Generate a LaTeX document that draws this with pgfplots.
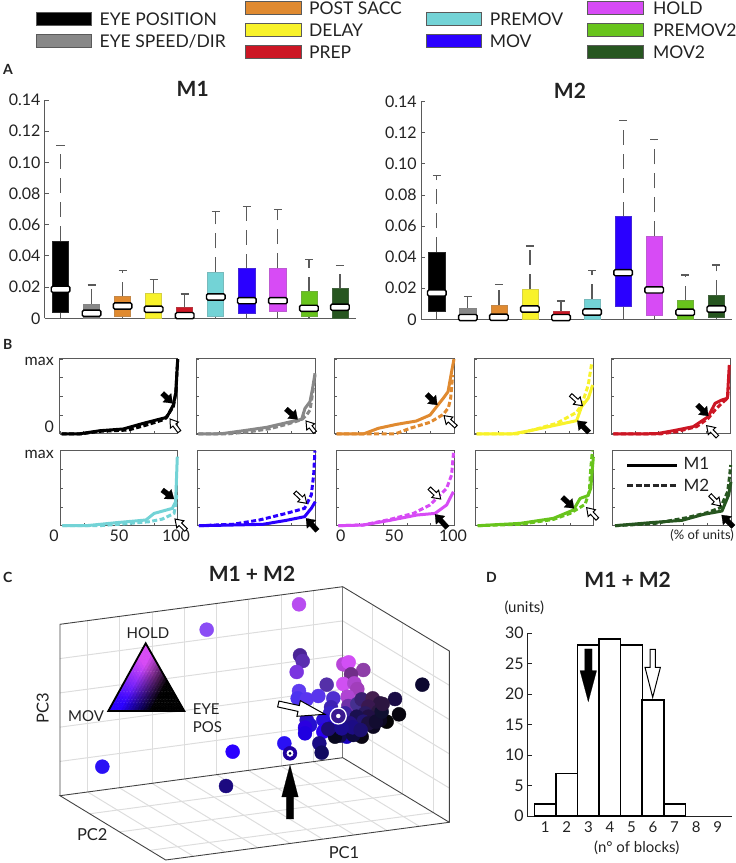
\documentclass[border=0pt]{standalone}
\usepackage{fontspec}
\setmainfont{Lato}
\usepackage{pgfplots}
\pgfplotsset{compat=1.18}
\definecolor{cEye}{HTML}{000000}
\definecolor{cSpd}{HTML}{888888}
\definecolor{cPost}{HTML}{E08A30}
\definecolor{cDel}{HTML}{F8F22A}
\definecolor{cPrep}{HTML}{CC1624}
\definecolor{cPre}{HTML}{73D3D6}
\definecolor{cMov}{HTML}{2A00FF}
\definecolor{cHold}{HTML}{D74BF5}
\definecolor{cPre2}{HTML}{68C41C}
\definecolor{cMov2}{HTML}{275620}
\definecolor{txt}{HTML}{222222}
\definecolor{whk}{HTML}{5A5A5A}
\definecolor{grd}{HTML}{DDDDDD}
\newcommand\fs[1]{\fontsize{#1}{#1}\selectfont}
\pgfplotsset{
  boxax/.style={scale only axis, anchor=south west, clip=false, width=310.5pt,
    xmin=0.5,xmax=10.5,ymin=0,ymax=0.14, axis x line=bottom, axis y line=left,
    axis line style={-,draw=whk,line width=1pt}, xtick=\empty,
    ytick={0,0.02,0.04,0.06,0.08,0.10,0.12,0.14},
    yticklabels={0,0.02,0.04,0.06,0.08,0.10,0.12,0.14},
    tick align=inside, major tick length=4pt, tick style={draw=whk,line width=.9pt},
    y tick label style={font=\fs{16},text=txt,xshift=-1pt}, title style={font=\fs{21}\bfseries,text=txt}},
  wh/.style={draw=whk,line width=1.2pt,forget plot},
  cax/.style={scale only axis, anchor=south west, clip=false,
    xmin=0,xmax=100,ymin=0,ymax=1, xtick={0,20,40,60,80,100}, ytick={0,0.25,0.5,0.75,1},
    xticklabels={}, yticklabels={}, tick pos=left, tick align=inside, major tick length=2.5pt,
    axis line style={draw=whk,line width=1pt}, tick style={draw=whk,line width=.8pt}},
  sol/.style={line width=3pt,line join=round},
  das/.style={line width=3pt,dash pattern=on 5pt off 2.5pt}
}
\newcommand\bx[7]{%
  \pgfmathsetmacro\bxL{#1-0.26}\pgfmathsetmacro\bxR{#1+0.26}%
  \pgfmathsetmacro\bxl{#1-0.13}\pgfmathsetmacro\bxr{#1+0.13}%
  \pgfmathsetmacro\bxml{#1-0.3}\pgfmathsetmacro\bxmr{#1+0.3}%
  \pgfmathsetmacro\bxlo{#4-0.002}\pgfmathsetmacro\bxhi{#4+0.002}%
  \addplot[wh,dash pattern=on 15pt off 9pt] coordinates {(#1,#5)(#1,#6)};
  \addplot[wh] coordinates {(\bxl,#6)(\bxr,#6)};
  \addplot[wh] coordinates {(#1,#2)(#1,#3)};
  \addplot[fill=#7,draw=#7!70!gray,line width=.7pt,forget plot] coordinates {(\bxL,#3)(\bxR,#3)(\bxR,#5)(\bxL,#5)} -- cycle;
  \addplot[fill=white,draw=black,line width=1.4pt,rounded corners=1.4pt,forget plot] coordinates {(\bxml,\bxlo)(\bxmr,\bxlo)(\bxmr,\bxhi)(\bxml,\bxhi)} -- cycle;
}
\newcommand\cpanel[7]{%
 \begin{axis}[cax,at={(#1pt,{(863-#2)*1pt})},width=#3pt,height=75pt]
  \addplot[das,color=#4] coordinates {#6};
  \addplot[sol,color=#4] coordinates {#5};
  #7
 \end{axis}}
% arrow in px coordinates: style, tipx,tipy,tailx,taily,headlen,headhalf,shafthalf
\newcommand\barrow[8]{%
  \pgfmathsetmacro\arang{-atan2((#3)-(#5),(#2)-(#4))}%
  \pgfmathsetmacro\arlen{veclen((#3)-(#5),(#2)-(#4))}%
  \begin{scope}[shift={({#2},{#3})},rotate=\arang]
   \path[#1,line join=miter] (0,0)--(-#6,#7)--(-#6,#8)--(-\arlen,#8)--(-\arlen,-#8)--(-#6,-#8)--(-#6,-#7)--cycle;
  \end{scope}}
\tikzset{ablk/.style={fill=black,draw=black,line width=.2pt},awht/.style={fill=white,draw=black,line width=1pt},
  anchoradj/mid west/.style={yshift=-2.2pt},anchoradj/mid east/.style={yshift=-2.2pt}}
% small arrows given in zoom coordinates
\newcommand\sblk[5]{\barrow{ablk}{#1+#2/3}{335+#3/3}{#1+#4/3}{335+#5/3}{8}{6}{2.5}}
\newcommand\swht[5]{\barrow{awht}{#1+#2/3}{335+#3/3}{#1+#4/3}{335+#5/3}{7.5}{5}{1.8}}
\newcommand\Tx[5]{\node[anchor=#3,anchoradj/#3/.try,inner sep=0pt,font=\fs{#4},text=txt] at (#1,#2) {#5};}
\newcommand\lgd[3]{\path[fill=#3,draw=whk,line width=.8pt] (#1,#2) rectangle ++(55.4,13);}
\begin{document}
\begin{tikzpicture}
\useasboundingbox (0,0) rectangle (736pt,863pt);
% ---------- panel A
\begin{axis}[boxax,at={(45pt,{(863-318.3)*1pt})},height=218.3pt]
 \bx{1}{0}{0.004}{0.0186}{0.0496}{0.111}{cEye}
 \bx{2}{0}{0}{0.0032}{0.0092}{0.0214}{cSpd}
 \bx{3}{0}{0.001}{0.0079}{0.0139}{0.0306}{cPost}
 \bx{4}{0}{0}{0.0058}{0.016}{0.0248}{cDel}
 \bx{5}{0}{0}{0.0017}{0.0068}{0.0156}{cPrep}
 \bx{6}{0}{0.001}{0.0137}{0.0295}{0.0685}{cPre}
 \bx{7}{0}{0.0032}{0.0113}{0.0319}{0.0719}{cMov}
 \bx{8}{0}{0.0043}{0.0113}{0.0321}{0.0698}{cHold}
 \bx{9}{0}{0.0015}{0.0064}{0.0171}{0.0379}{cPre2}
 \bx{10}{0}{0}{0.0071}{0.019}{0.0338}{cMov2}
\end{axis}
\begin{axis}[boxax,at={(421.3pt,{(863-319.3)*1pt})},height=217.6pt]
 \bx{1}{0}{0.0049}{0.0169}{0.0432}{0.0927}{cEye}
 \bx{2}{0}{0}{0.0011}{0.0071}{0.0146}{cSpd}
 \bx{3}{0}{0}{0.0013}{0.009}{0.0225}{cPost}
 \bx{4}{0}{0}{0.0066}{0.0195}{0.0471}{cDel}
 \bx{5}{0}{0}{0.0011}{0.0049}{0.0118}{cPrep}
 \bx{6}{0}{0}{0.0047}{0.0128}{0.0313}{cPre}
 \bx{7}{0}{0.0084}{0.03}{0.066}{0.1281}{cMov}
 \bx{8}{0}{0.0028}{0.0189}{0.0533}{0.1157}{cHold}
 \bx{9}{0}{0}{0.0045}{0.012}{0.0285}{cPre2}
 \bx{10}{0}{0.0015}{0.0066}{0.0154}{0.0349}{cMov2}
\end{axis}
% ---------- panel B
\cpanel{60}{434}{117.7}{cEye}{(1.4,0)(15.6,0)(34,.044)(53.8,.067)(70.8,.142)(90.7,.222)(96.3,.387)(98.3,.54)(100,1)}{(1.4,0)(17,0)(34,.036)(58,.053)(73.6,.12)(89,.196)(96.3,.364)(98.5,.564)(100,1)}{}
\cpanel{196}{434}{119}{cSpd}{(2,0)(21.6,.004)(39.8,.044)(59.4,.089)(76.2,.151)(88.8,.196)(91.6,.342)(95.8,.431)(98,.609)(100,.809)}{(2,0)(25.8,0)(45.4,.031)(62.2,.071)(76.2,.129)(88.8,.191)(93,.253)(95.8,.32)(98,.542)(100,.787)}{}
\cpanel{334.7}{434}{119.3}{cPost}{(1.7,0)(24,0)(36.6,.076)(52,.129)(68.4,.173)(80,.253)(85.4,.364)(91,.476)(95,.564)(98,.831)(100,1)}{(1.7,0)(50.6,0)(63.1,.076)(79.9,.156)(91.1,.262)(95.3,.351)(97.2,.476)(98.9,.787)}{}
\cpanel{474.3}{434}{118.7}{cDel}{(2,0)(31.5,0)(46.9,.044)(66.6,.111)(86.2,.178)(90.4,.364)(96,.476)(99.7,.653)}{(2,0)(35.7,0)(52.5,.067)(69.4,.142)(86.2,.289)(90.4,.387)(96,.653)(98.9,.942)}{}
\cpanel{611.3}{434}{118.7}{cPrep}{(1.7,0)(38.2,.004)(52.2,.044)(69.1,.098)(81.7,.231)(87.4,.409)(93,.453)(97.8,.476)(99.4,.92)}{(1.7,0)(41,0)(55,.031)(71.9,.098)(81.7,.209)(87.4,.32)(93,.409)(97.8,.476)(98.9,.631)}{}
\cpanel{60.5}{525.7}{117.5}{cPre}{(1.7,0)(22,0)(47.3,.04)(72.7,.076)(79.7,.164)(95.2,.231)(98,.32)(99.4,.92)}{(1.7,0)(33.2,0)(55.8,.027)(75.5,.053)(86.8,.089)(96.6,.164)(98,.276)(98.9,.409)}{}
\cpanel{197.3}{525.7}{118}{cMov}{(1.4,0)(29.8,.009)(55.4,.018)(75.3,.071)(90.9,.12)(96.6,.231)(100,.32)}{(1.4,0)(29.8,.018)(52.6,.076)(75.3,.164)(90.9,.231)(96.6,.409)(98.6,.676)(99.7,1)}{}
\cpanel{336}{525.7}{118.3}{cHold}{(2,0)(23,.009)(45.6,.071)(68.2,.142)(83.7,.164)(93.5,.276)(99.2,.453)}{(2,0)(23,.009)(45.6,.084)(65.4,.164)(79.4,.276)(93.5,.498)(97.7,.676)(99.4,.987)}{}
\cpanel{475.7}{525.7}{118}{cPre2}{(1.7,0)(37.6,.031)(65.9,.098)(82.8,.209)(88.5,.364)(95,.4)(97.5,.498)(99.7,.92)}{(1.7,0)(37.6,.018)(65.9,.084)(80,.164)(87,.231)(92.7,.284)(96.3,.453)(97.5,.764)(98.9,1)}{}
\cpanel{612.7}{525.7}{118.3}{cMov2}{(2,0)(34.5,.044)(58.5,.071)(76.8,.151)(92.4,.196)(98,.409)(100,.587)}{(2,0)(34.5,.027)(62.7,.107)(79.7,.173)(91,.24)(97.2,.453)(98.9,.676)(99.7,.809)}{}
% ---------- annotations in pixel coordinates
\begin{scope}[x=1pt,y=-1pt,shift={(0,863pt)}]
 % legend
 \lgd{36.1}{12.7}{cEye}\lgd{36.1}{34.7}{cSpd}
 \lgd{245.5}{1.8}{cPost}\lgd{245.5}{23.5}{cDel}\lgd{245.5}{45.5}{cPrep}
 \lgd{426.2}{12.7}{cPre}\lgd{426.2}{34.7}{cMov}
 \lgd{587.7}{1.5}{cHold}\lgd{587.7}{23.5}{cPre2}\lgd{587.7}{45.5}{cMov2}
 \Tx{99.5}{20.5}{mid west}{17.5}{EYE POSITION}
 \Tx{99.5}{42.5}{mid west}{17.5}{EYE SPEED/DIR}
 \Tx{308.9}{9.5}{mid west}{17.5}{POST SACC}
 \Tx{308.9}{31.5}{mid west}{17.5}{DELAY}
 \Tx{308.9}{53.5}{mid west}{17.5}{PREP}
 \Tx{489.6}{21}{mid west}{17.5}{PREMOV}
 \Tx{489.6}{42.5}{mid west}{17.5}{MOV}
 \Tx{652.9}{9.5}{mid west}{17.5}{HOLD}
 \Tx{652.9}{31.5}{mid west}{17.5}{PREMOV2}
 \Tx{652.9}{53.5}{mid west}{17.5}{MOV2}
 \Tx{3}{69.5}{mid west}{14}{\bfseries A}
 \Tx{3}{344.5}{mid west}{14}{\bfseries B}
 \Tx{3}{577.5}{mid west}{14}{\bfseries C}
 \Tx{486}{577.5}{mid west}{14}{\bfseries D}
 \Tx{192.7}{89}{center}{21}{\bfseries M1}
 \Tx{570}{90.5}{center}{21}{\bfseries M2}
 \Tx{54}{361}{mid east}{16}{max}
 \Tx{54}{453.5}{mid east}{16}{max}
 \Tx{54}{428}{mid east}{16}{0}
 \Tx{54}{536}{center}{16}{0}\Tx{119}{536}{center}{16}{50}\Tx{176}{536}{center}{16}{100}
 \Tx{340.7}{536}{center}{16}{0}\Tx{394}{536}{center}{16}{50}\Tx{453}{536}{center}{16}{100}
 \Tx{734}{535}{mid east}{13}{(\% of units)}
 \draw[black,line width=3.5pt] (627,465.7)--(677,465.7);
 \draw[black!85,line width=3.5pt,dash pattern=on 6pt off 2.5pt] (627,485.7)--(677,485.7);
 \Tx{683.3}{465}{mid west}{17}{M1}
 \Tx{683.3}{487}{mid west}{17}{M2}
 % B arrows
 \sblk{0}{518}{205}{487}{175}\swht{0}{510}{252}{538}{290}
 \sblk{0}{893}{253}{858}{222}\swht{0}{918}{258}{945}{292}
 \sblk{0}{522}{492}{487}{465}\swht{0}{525}{552}{558}{585}
 \swht{0}{920}{505}{885}{472}\sblk{0}{918}{550}{952}{587}
 \sblk{320}{352}{210}{320}{178}\swht{320}{372}{242}{408}{275}
 \swht{320}{787}{212}{752}{180}\sblk{320}{772}{257}{807}{292}
 \sblk{320}{1165}{243}{1132}{210}\swht{320}{1160}{272}{1192}{305}
 \swht{320}{362}{492}{328}{460}\sblk{320}{345}{538}{382}{578}
 \sblk{320}{762}{520}{727}{487}\swht{320}{800}{518}{832}{552}
 \swht{320}{1202}{513}{1170}{480}\sblk{320}{1205}{540}{1240}{575}
 % C box grid: left wall verticals
 \foreach \gx in {87.7,119.3,152,184.3,216.7,248.3,281,313.3}{
   \pgfmathsetmacro\gtp{624.3-0.133*(\gx-60)}\pgfmathsetmacro\gbt{795.7-0.134*(\gx-60)}
   \draw[grd,line width=1pt] (\gx,\gtp)--(\gx,\gbt);
   \draw[grd,line width=1pt] (\gx,\gbt)--(\gx+105.7,\gbt+64.3);}
 \foreach \f in {0.2,0.4,0.6,0.8}{
   \draw[grd,line width=1pt] (60,624.3+171.4*\f)--(342.7,586.7+171*\f);
   \draw[grd,line width=1pt] (342.7,586.7+171*\f)--(449.3,651+171.3*\f);}
 \foreach \gx in {372.7,402.7,433.3}{
   \pgfmathsetmacro\gtp{586.7+0.6032*(\gx-342.7)}\pgfmathsetmacro\gbt{757.7+0.606*(\gx-342.7)}
   \draw[grd,line width=1pt] (\gx,\gtp)--(\gx,\gbt);}
 \foreach \f in {0.281,0.563,0.85}{
   \draw[grd,line width=1pt] (60+105.7*\f,795.7+64.3*\f)--(342.7+106.6*\f,757.7+64.6*\f);}
 \draw[whk!80!white,line width=1.5pt] (342.7,586.7)--(342.7,757.7);
 \draw[txt!85!white,line width=.9pt] (60,795.7)--(60,624.3)--(342.7,586.7)--(449.3,651)--(449.3,822.3)--(165.7,860)--(60,795.7)--(342.7,757.7)--(449.3,822.3);
 % inset triangle
 \foreach \m in {0,...,23}{
  \pgfmathtruncatemacro\emax{23-\m}
  \foreach \e in {0,...,\emax}{
   \pgfmathsetmacro\bM{(\m+0.33)/24}\pgfmathsetmacro\bE{(\e+0.33)/24}\pgfmathsetmacro\bH{max(1-\bM-\bE,0)}
   \pgfmathsetmacro\bI{max(0,min(1,1.35-2.4*\bE))}\pgfmathsetmacro\bS{max(\bH+\bM,0.001)}
   \pgfmathsetmacro\bHa{min(1,max(0,1.5*\bH/\bS-0.2))}\pgfmathsetmacro\bMi{1-\bHa}
   \pgfmathsetmacro\cR{(0.843*\bHa+0.165*\bMi)*\bI}\pgfmathsetmacro\cG{(0.294*\bHa)*\bI}\pgfmathsetmacro\cB{min(1,(0.961*\bHa+\bMi)*\bI)}
   \definecolor{tc}{rgb}{\cR,\cG,\cB}
   \path[fill=tc,draw=tc,line width=.4pt] (145.7-1.5583*\m+1.6083*\e,643.3+2.8208*\m+2.8208*\e)--(145.7-1.5583*\m-1.5583+1.6083*\e,643.3+2.8208*\m+2.8208+2.8208*\e)--(145.7-1.5583*\m+1.6083*\e+1.6083,643.3+2.8208*\m+2.8208*\e+2.8208)--cycle;
   \pgfmathtruncatemacro\sm{\m+\e}
   \ifnum\sm<23
    \path[fill=tc,draw=tc,line width=.4pt] (145.7-1.5583*\m-1.5583+1.6083*\e,643.3+2.8208*\m+2.8208+2.8208*\e)--(145.7-1.5583*\m+1.6083*\e+1.6083,643.3+2.8208*\m+2.8208*\e+2.8208)--(145.7-1.5583*\m-1.5583+1.6083*\e+1.6083,643.3+2.8208*\m+2.8208+2.8208*\e+2.8208)--cycle;
   \fi
  }}
 \draw[black,line width=1.8pt,line join=miter] (145.7,643.3)--(108.3,711)--(184.3,711)--cycle;
 \Tx{148}{633.5}{center}{15}{HOLD}
 \Tx{86}{716.5}{center}{15}{MOV}
 \Tx{192.7}{710}{mid west}{15}{EYE}
 \Tx{192.7}{728}{mid west}{15}{POS}
 \node[rotate=90,inner sep=0pt,font=\fs{16.5},text=txt] at (42.7,708) {PC3};
 \Tx{92.3}{835}{center}{16.5}{PC2}
 \Tx{344}{852.7}{center}{16.5}{PC1}
 \Tx{252}{574}{center}{21}{\bfseries M1 + M2}
 \Tx{627.7}{580}{center}{21}{\bfseries M1 + M2}
 \Tx{524.3}{607.7}{center}{15}{(units)}
 \Tx{636.7}{847.7}{center}{15}{(n° of blocks)}
\end{scope}
% ---------- panel C points (pixel frame of the projected view)
\begin{axis}[scale only axis,anchor=south west,at={(0pt,0pt)},width=736pt,height=863pt,
  xmin=0,xmax=736,ymin=0,ymax=863,y dir=reverse,hide axis,clip=false]
 \addplot[scatter,only marks,mark=*,mark size=7pt,
   visualization depends on={value \thisrow{c} \as \ptc},
   scatter/@pre marker code/.code={\definecolor{mc}{HTML}{\ptc}\scope[/tikz/draw=mc,/tikz/fill=mc]},
   scatter/@post marker code/.code={\endscope}]
  table[x expr=230+\thisrow{x}/3,y expr=580+\thisrow{y}/3]{
x y c
207 73 B84DF0
-70 149 8B4DF5
-383 560 2A10F5
8 515 2A00FF
-12 618 1C0A80
163 490 2A10F5
180 520 20009F
577 314 0C0830
210 226 4A2496
218 243 5A2EB0
200 276 7B35E0
207 333 5F3CF0
203 355 4D33F0
230 358 5A35F0
340 253 B845D8
356 247 D24FF5
400 270 8E3FA8
363 283 702E88
340 312 D050F2
373 310 AD46CE
382 327 A13EBB
353 350 B045D3
290 314 5530A8
265 348 5A36EC
310 355 4F30D0
303 382 3D22B5
355 378 7030A8
382 372 453090
395 358 3A2070
428 355 452050
450 370 2C1540
495 357 1A0C45
507 403 08060F
415 380 3A1850
445 395 2A1840
405 400 2C1A60
345 400 3B20A0
300 400 3A22C8
280 420 2A10D8
415 410 221045
380 410 1A1050
230 420 2A10C0
240 435 2510D0
225 443 2A00E0
225 460 2000E0
285 450 2A00F0
310 440 2000D0
340 430 2A00F0
280 455 2A00F0
340 463 2200E0
350 470 1800C0
268 490 1A0C85
275 518 110A60
395 470 0A0612
470 425 050505
330 467 100A50
370 465 0E0A40
315 470 08081F
450 420 0C0820
430 440 0C0820
400 425 221470
415 430 1C1040
438 425 120C30
455 395 101030
458 372 2C1540
360 430 241080
368 442 1C0C85
392 450 1C0F70
295 447 1D0C75
335 445 1C0C90
325 408 3A1A90
};
 \addplot[only marks,mark=*,mark size=2pt,color=white] coordinates {(338.3,716)};
 \addplot[only marks,mark=o,mark size=8pt,color=white,line width=1.3pt] coordinates {(338.3,716)};
 \addplot[only marks,mark=*,mark size=3.2pt,color=white] coordinates {(290,753.3)};
 \addplot[only marks,mark=*,mark size=1.2pt,color=black!70!blue] coordinates {(290,753.3)};
\end{axis}
% ---------- panel D
\begin{axis}[scale only axis,anchor=south west,at={(527.3pt,{(863-816)*1pt})},width=205pt,height=183pt,
  xmin=0.165,xmax=9.68,ymin=0,ymax=30,axis x line=bottom,axis y line=left,
  axis line style={-,draw=txt,line width=1pt},clip=false,
  xtick={1,2,3,4,5,6,7,8,9},xticklabels={1,2,3,4,5,6,7,8,9},
  ytick={0,5,10,15,20,25,30},yticklabels={0,5,10,15,20,25,30},
  tick align=inside,major tick length=5pt,major x tick style={draw=none},
  tick style={draw=txt,line width=.9pt},
  x tick label style={font=\fs{15},text=txt,yshift=-2pt},
  y tick label style={font=\fs{16},text=txt}]
 \addplot[ybar,bar width=21.55pt,fill=white,draw=black,line width=1.5pt] coordinates {(1,2)(2,7)(3,28)(4,29)(5,28)(6,19)(7,2)};
\end{axis}
\begin{scope}[x=1pt,y=-1pt,shift={(0,863pt)}]
 \barrow{ablk}{588.3}{701.7}{588.3}{649}{31}{8.3}{3.7}
 \barrow{awht}{652.7}{697.3}{652.7}{649.3}{30}{7.7}{2.7}
 \barrow{ablk}{290}{765}{290}{819}{32}{8.3}{3.7}
 \barrow{awht}{325}{714.3}{278.3}{704}{27}{8}{3}
\end{scope}
\end{tikzpicture}
\end{document}
